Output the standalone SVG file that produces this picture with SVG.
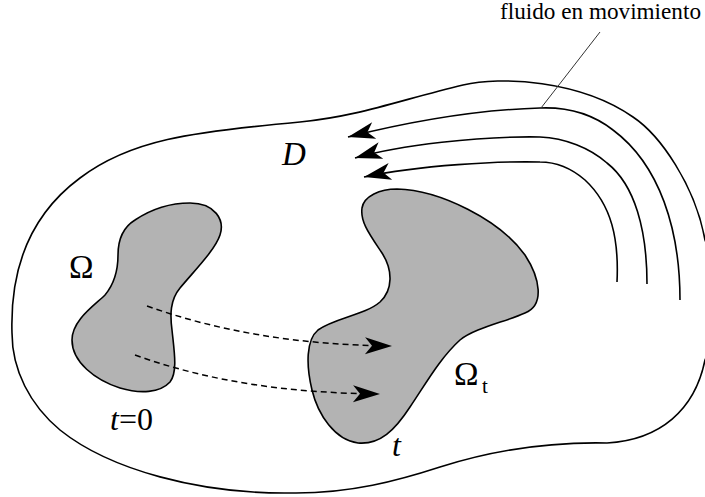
<svg xmlns="http://www.w3.org/2000/svg" width="705" height="497" viewBox="0 0 705 497">
<style>
.line{fill:none;stroke:#000;stroke-width:1.6}
.blob{fill:#b3b3b3;stroke:#000;stroke-width:1.6}
.dash{fill:none;stroke:#000;stroke-width:1.5;stroke-dasharray:6 4}
.lbl{font-family:"Liberation Serif","Times New Roman",serif;fill:#000}
.it{font-style:italic}
</style>
<defs>
<marker id="ah" markerUnits="userSpaceOnUse" markerWidth="30" markerHeight="20" viewBox="-28 -10 30 20" refX="0" refY="0" orient="auto">
<path d="M0,0 L-27,-8.5 L-20,0 L-27,8.5 Z" fill="#000"/>
</marker>
</defs>
<rect width="705" height="497" fill="#fff"/>
<g id="domain-D">
<path class="line" d="M12,333 C10,270 30,215 80,178 C130,140 190,132 300,122 C360,116 400,100 463,85 C500,76 580,80 633,117 C660,135 695,185 705,240 C722,280 722,320 705,360 C695,410 660,440 607,443 C560,442 500,448 440,467 C400,480 350,494 290,493 C200,494 110,470 60,430 C30,405 12,370 12,333 Z"/>
<text class="lbl it" x="282" y="165" font-size="33">D</text>
</g>
<g id="omega">
<path class="blob" d="M190,203 C215,203 225,220 220,235 C215,250 195,270 180,288 C170,300 170,315 172,330 C174,350 178,372 170,382 C160,393 140,394 120,388 C95,380 72,362 72,340 C72,320 95,305 105,295 C115,283 118,270 118,255 C118,240 122,228 135,220 C150,210 170,203 190,203 Z"/>
<text class="lbl" x="69" y="278" font-size="33">Ω</text>
<text class="lbl" x="110" y="430" font-size="32"><tspan class="it">t</tspan>=0</text>
</g>
<g id="omega-t">
<path class="blob" d="M397,189 C440,190 500,220 525,255 C540,278 545,305 525,313 C505,322 475,328 460,340 C440,358 425,385 410,407 C395,430 380,445 358,443 C335,440 318,415 312,390 C306,365 306,340 318,330 C335,318 365,315 380,302 C393,290 393,270 382,253 C370,235 360,222 362,208 C364,196 380,189 397,189 Z"/>
<text class="lbl" x="454" y="385" font-size="33">Ω</text>
<text class="lbl" x="482" y="393" font-size="21">t</text>
<text class="lbl it" x="392" y="456" font-size="32">t</text>
</g>
<g id="fluid-label">
<text class="lbl" x="500" y="19" font-size="23" textLength="201" lengthAdjust="spacingAndGlyphs">fluido en movimiento</text>
</g>
<g id="connectors">
<path class="line" marker-end="url(#ah)" d="M680,300 C680,230 660,165 613,130 C590,112 565,107 540,108 C470,110 400,124 348,137"/>
<path class="line" marker-end="url(#ah)" d="M647,284 C647,230 635,185 607,163 C590,148 565,138 540,137 C480,136 400,145 355,158"/>
<path class="line" marker-end="url(#ah)" d="M617,282 C619,240 612,205 585,180 C570,167 556,162 540,162 C500,161 420,165 364,177"/>
<path d="M600,32 L541,108" fill="none" stroke="#333" stroke-width="1"/>
<path class="dash" marker-end="url(#ah)" d="M147,306 C220,332 300,345 392,346"/>
<path class="dash" marker-end="url(#ah)" d="M135,355 C210,382 290,393 380,394"/>
</g>
</svg>
